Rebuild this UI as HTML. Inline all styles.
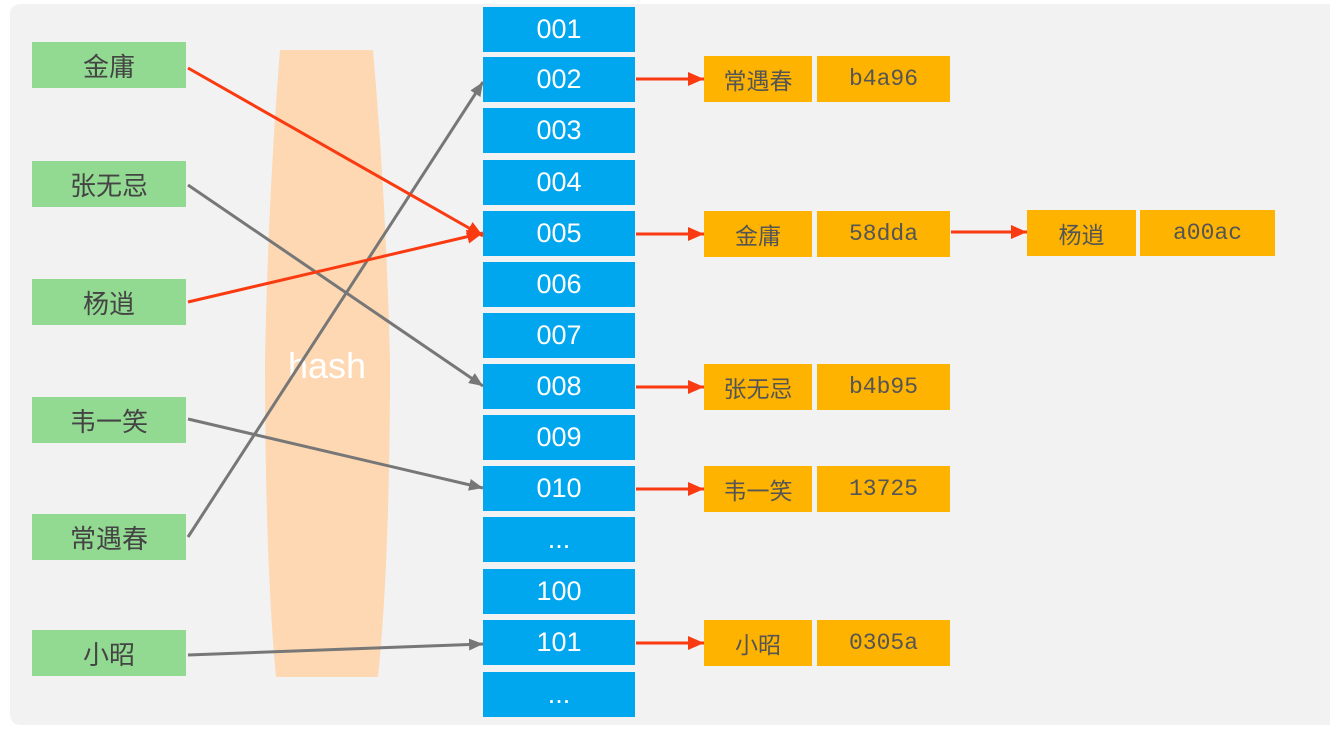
<!DOCTYPE html>
<html><head><meta charset="utf-8"><style>
body{margin:0;width:1330px;height:732px;background:#fff;position:relative;overflow:hidden;font-family:"Liberation Sans","Noto Sans CJK SC",sans-serif}
.panel{position:absolute;left:10px;top:4px;width:1330px;height:721px;background:#f2f2f2;border-radius:10px}
.g{position:absolute;left:32px;width:154px;height:46px;background:#92d992;color:#444;font-size:26px;display:flex;align-items:center;justify-content:center}
.b{position:absolute;left:483px;width:152px;height:45px;background:#00a7ee;color:#fff;font-size:27px;display:flex;align-items:center;justify-content:center}
.o{position:absolute;height:46px;background:#fdb300;color:#555;font-size:23px;display:flex;align-items:center;justify-content:center}
.m{font-family:"Liberation Mono",monospace;font-size:23px}
</style></head><body>
<div class="panel"></div>
<svg style="position:absolute;left:0;top:0" width="1330" height="732">
<path d="M280 50 L373 50 Q386 200 390 360 Q390 560 378 677 L276 677 Q265 560 265 360 Q268 200 280 50Z" fill="#fdd8b3"/>
<text x="327" y="378" fill="#fff" font-size="36" text-anchor="middle" font-family="Liberation Sans,sans-serif">hash</text>
</svg>
<div class="g" style="top:42px">金庸</div>
<div class="g" style="top:161px">张无忌</div>
<div class="g" style="top:279px">杨逍</div>
<div class="g" style="top:397px">韦一笑</div>
<div class="g" style="top:514px">常遇春</div>
<div class="g" style="top:630px">小昭</div>
<div class="b" style="top:7px">001</div>
<div class="b" style="top:57px">002</div>
<div class="b" style="top:108px">003</div>
<div class="b" style="top:160px">004</div>
<div class="b" style="top:211px">005</div>
<div class="b" style="top:262px">006</div>
<div class="b" style="top:313px">007</div>
<div class="b" style="top:364px">008</div>
<div class="b" style="top:415px">009</div>
<div class="b" style="top:466px">010</div>
<div class="b" style="top:517px">...</div>
<div class="b" style="top:569px">100</div>
<div class="b" style="top:620px">101</div>
<div class="b" style="top:672px">...</div>
<div class="o" style="left:704px;width:108px;top:56px">常遇春</div><div class="o m" style="left:817px;width:133px;top:56px">b4a96</div>
<div class="o" style="left:704px;width:108px;top:211px">金庸</div><div class="o m" style="left:817px;width:133px;top:211px">58dda</div>
<div class="o" style="left:1027px;width:109px;top:210px">杨逍</div><div class="o m" style="left:1140px;width:135px;top:210px">a00ac</div>
<div class="o" style="left:704px;width:108px;top:364px">张无忌</div><div class="o m" style="left:817px;width:133px;top:364px">b4b95</div>
<div class="o" style="left:704px;width:108px;top:466px">韦一笑</div><div class="o m" style="left:817px;width:133px;top:466px">13725</div>
<div class="o" style="left:704px;width:108px;top:620px">小昭</div><div class="o m" style="left:817px;width:133px;top:620px">0305a</div>
<svg style="position:absolute;left:0;top:0" width="1330" height="732">
<defs>
<marker id="r" markerWidth="16" markerHeight="14" refX="16" refY="7" orient="auto" markerUnits="userSpaceOnUse" viewBox="0 0 16 14"><path d="M0 0L16 7L0 14Z" fill="#fa3a10"/></marker>
<marker id="k" markerWidth="14" markerHeight="12" refX="14" refY="6" orient="auto" markerUnits="userSpaceOnUse" viewBox="0 0 14 12"><path d="M0 0L14 6L0 12Z" fill="#777"/></marker>
</defs>
<g stroke="#777" stroke-width="3" fill="none">
<line x1="188" y1="185" x2="483" y2="386" marker-end="url(#k)"/>
<line x1="188" y1="419" x2="483" y2="488" marker-end="url(#k)"/>
<line x1="188" y1="537" x2="483" y2="82" marker-end="url(#k)"/>
<line x1="188" y1="655" x2="483" y2="644" marker-end="url(#k)"/>
</g>
<g stroke="#fa3a10" stroke-width="3" fill="none">
<line x1="188" y1="68" x2="483" y2="236" marker-end="url(#r)"/>
<line x1="188" y1="302" x2="483" y2="233" marker-end="url(#r)"/>
<line x1="636" y1="79" x2="704" y2="79" marker-end="url(#r)"/>
<line x1="636" y1="234" x2="704" y2="234" marker-end="url(#r)"/>
<line x1="951" y1="232" x2="1027" y2="232" marker-end="url(#r)"/>
<line x1="636" y1="387" x2="704" y2="387" marker-end="url(#r)"/>
<line x1="636" y1="489" x2="704" y2="489" marker-end="url(#r)"/>
<line x1="636" y1="643" x2="704" y2="643" marker-end="url(#r)"/>
</g>
</svg>
</body></html>
